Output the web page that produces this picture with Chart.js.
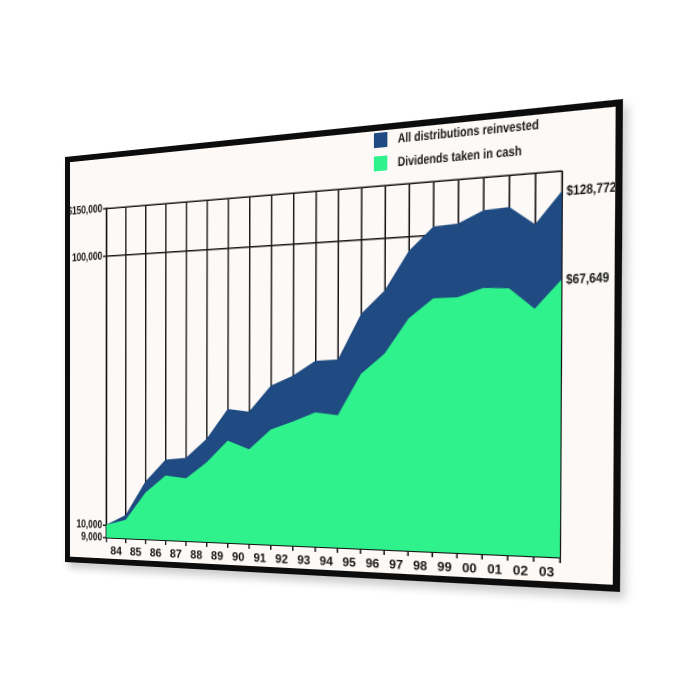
<!DOCTYPE html>
<html>
<head>
<meta charset="utf-8">
<script src="https://cdn.jsdelivr.net/npm/chart.js@4.4.1/dist/chart.umd.min.js"></script>
<style>
html,body{margin:0;padding:0;background:#fff;width:700px;height:700px;overflow:hidden}
#board{position:absolute;left:0;top:0;width:560px;height:430px;box-sizing:border-box;border:6px solid #0d0d0d;background:#fcf9f6;transform-origin:0 0;box-shadow:4px 6px 8px rgba(0,0,0,0.2)}
#wrap{position:absolute;left:0;top:0;width:548px;height:418px}
.leg{position:absolute;left:331px;height:14px;line-height:14px;font:bold 12.5px "Liberation Sans",Arial,sans-serif;color:#1b1b1b;white-space:nowrap}
.leg i{display:inline-block;width:13px;height:14px;vertical-align:top;margin-right:10px}
.leg span{display:inline-block;transform:scaleX(0.8);transform-origin:0 50%}
</style>
</head>
<body>
<div id="board">
  <div id="wrap"><canvas id="chart" width="548" height="418"></canvas></div>
  <div class="leg" style="top:2px"><i style="background:#1f4a82"></i><span>All distributions reinvested</span></div>
  <div class="leg" style="top:24px"><i style="background:#2ff28c"></i><span>Dividends taken in cash</span></div>
</div>
<script>
// data (value at the end of each year, first point = start)
const years=['84','85','86','87','88','89','90','91','92','93','94','95','96','97','98','99','00','01','02','03'];
const reinvested=[10000,10950,14600,17600,17900,21000,26800,26200,32300,34900,39100,39400,56000,66700,89400,106200,107300,116900,118100,102500,128772];
const cash=[10000,10500,13300,15400,15100,17300,20700,19300,22700,24200,26000,25400,35100,40900,53300,61600,61700,65500,64800,55200,67649];
const yTicks=[9000,10000,100000,150000];
const yLabels=['9,000','10,000','100,000','$150,000'];

const blue="#1f4a82";
const green="#2ff28c";
const ink="#141414";
const font='"Liberation Sans", Arial, sans-serif';

// board sits on the page in perspective
const corners=[[65,157],[623,99],[620,592],[65,562]];
function quadMatrix(w,h,p){
  const [x0,y0]=p[0],[x1,y1]=p[1],[x2,y2]=p[2],[x3,y3]=p[3];
  const dx1=x1-x2,dx2=x3-x2,dx3=x0-x1+x2-x3;
  const dy1=y1-y2,dy2=y3-y2,dy3=y0-y1+y2-y3;
  const den=dx1*dy2-dx2*dy1;
  const g=(dx3*dy2-dx2*dy3)/den,hh=(dx1*dy3-dx3*dy1)/den;
  const a=x1-x0+g*x1,b=x3-x0+hh*x3,c=x0;
  const d=y1-y0+g*y1,e=y3-y0+hh*y3,f=y0;
  return `matrix3d(${a/w},${d/w},0,${g/w},${b/h},${e/h},0,${hh/h},0,0,1,0,${c},${f},0,1)`;
}
document.getElementById("board").style.transform=quadMatrix(560,430,corners);

const pts=arr=>arr.map((v,i)=>({x:i,y:v}));

// narrow bold text, drawn squeezed sideways
function squeezed(ctx,text,x,y,size,align){
  ctx.save();
  ctx.font="bold "+size+"px "+font;
  ctx.textAlign=align;
  ctx.textBaseline="middle";
  ctx.translate(x,y);
  ctx.scale(0.84,1);
  ctx.fillText(text,0,0);
  ctx.restore();
}

const sideLabels={
  id:"sideLabels",
  afterDatasetsDraw(chart){
    const {ctx,chartArea,scales}=chart;
    ctx.fillStyle=ink;
    yTicks.forEach((v,i)=>{
      squeezed(ctx,yLabels[i],chartArea.left-5,scales.y.getPixelForValue(v),12,"right");
    });
    [reinvested,cash].forEach(s=>{
      const v=s[s.length-1];
      squeezed(ctx,"$"+v.toLocaleString("en-US"),chartArea.right+4,scales.y.getPixelForValue(v),12,"left");
    });
  }
};

const gridStyle={color:"#161616",lineWidth:1.5};

new Chart(document.getElementById("chart"),{
  type:"line",
  data:{
    datasets:[
      {label:"Dividends taken in cash",data:pts(cash),fill:"start",backgroundColor:green,borderColor:green,borderWidth:1,pointRadius:0,tension:0},
      {label:"All distributions reinvested",data:pts(reinvested),fill:"-1",backgroundColor:blue,borderColor:blue,borderWidth:1,pointRadius:0,tension:0}
    ]
  },
  options:{
    responsive:false,
    animation:false,
    devicePixelRatio:2,
    layout:{padding:{top:52,right:45,bottom:0,left:0}},
    plugins:{legend:{display:false},tooltip:{enabled:false}},
    scales:{
      y:{
        type:"logarithmic",min:9000,max:150000,position:"left",
        afterBuildTicks:s=>{s.ticks=yTicks.map(v=>({value:v}));},
        afterFit:s=>{s.width=44;},
        ticks:{display:false},
        grid:{...gridStyle,tickLength:4},
        border:{color:ink,width:1.6}
      },
      x:{
        type:"linear",min:0,max:20,position:"bottom",
        afterBuildTicks:s=>{s.ticks=years.concat([""]).map((_,i)=>({value:i}));},
        afterFit:s=>{s.height=5;},
        ticks:{display:false},
        grid:{...gridStyle,tickLength:5},
        border:{color:ink,width:1.6}
      },
      xl:{
        type:"linear",min:0,max:20,position:"bottom",
        afterBuildTicks:s=>{s.ticks=years.map((_,i)=>({value:i+0.5}));},
        afterFit:s=>{s.height=17;},
        ticks:{autoSkip:false,maxRotation:0,padding:2,color:ink,font:{family:"Liberation Sans",weight:"bold",size:12},
          callback:(v,i)=>years[i]},
        grid:{display:false,drawTicks:false},
        border:{display:false}
      }
    }
  },
  plugins:[sideLabels]
});
</script>
</body>
</html>
